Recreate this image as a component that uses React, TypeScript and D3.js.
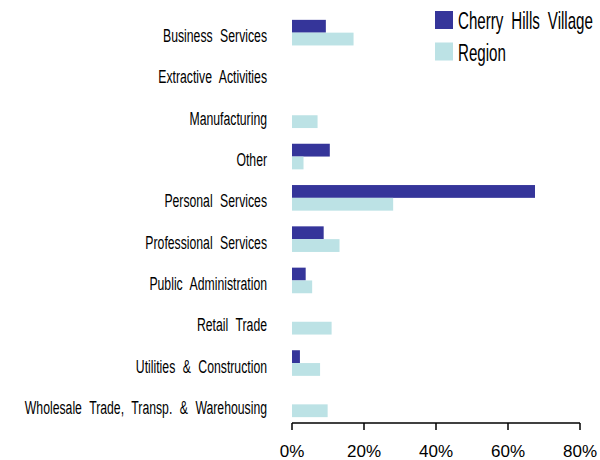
import React from 'react';
import * as d3 from 'd3';

const categories = [
  'Business Services',
  'Extractive Activities',
  'Manufacturing',
  'Other',
  'Personal Services',
  'Professional Services',
  'Public Administration',
  'Retail Trade',
  'Utilities & Construction',
  'Wholesale Trade, Transp. & Warehousing',
];
const seriesNames = ['Cherry Hills Village', 'Region'];
const cherryHills = [9.4, 0, 0, 10.5, 67.5, 8.8, 3.8, 0, 2.2, 0];
const region = [17.1, 0, 7.1, 3.2, 28.1, 13.2, 5.6, 11.0, 7.8, 9.9];
const xTicks = [0, 20, 40, 60, 80];
const colors = ['#35359a', '#bce2e5'];

const width = 600;
const height = 460;
// no condensed font installed, so squeeze Liberation Sans horizontally
const labelFont = '"Liberation Sans", Arial, sans-serif';

export default function App() {
  const x = d3.scaleLinear().domain([0, 80]).range([292, 580]);
  const y = d3.scaleBand().domain(categories).range([12, 425]).paddingInner(0.38).paddingOuter(0.19);
  const inner = d3.scaleBand().domain(seriesNames).range([0, y.bandwidth()]);
  const series = [cherryHills, region];
  const axisY = 423;

  return (
    <svg width={width} height={height} style={{ position: 'absolute', left: 0, top: 0, background: '#fff' }}>
      {/* bars */}
      {series.map((vals, si) =>
        vals.map((v, i) =>
          v > 0 ? (
            <rect
              key={`${si}-${i}`}
              x={x(0)}
              y={(y(categories[i]) as number) + (inner(seriesNames[si]) as number)}
              width={x(v) - x(0)}
              height={inner.bandwidth()}
              fill={colors[si]}
            />
          ) : null
        )
      )}

      {/* category labels */}
      {categories.map((c) => (
        <text
          key={c}
          transform={`translate(267,${(y(c) as number) + y.bandwidth() / 2 + 9.5}) scale(0.68,1)`}
          textAnchor="end"
          fontFamily={labelFont}
          fontSize={18}
          wordSpacing={6}
          fill="#000"
        >
          {c}
        </text>
      ))}

      {/* x axis */}
      <line x1={x(0)} x2={x(80)} y1={axisY} y2={axisY} stroke="#000" strokeWidth={1.5} />
      {xTicks.map((t) => (
        <g key={t} transform={`translate(${x(t)},${axisY})`}>
          <line y1={0} y2={7} stroke="#000" strokeWidth={1.5} />
          <text y={34} textAnchor="middle" fontFamily={labelFont} fontSize={17} fill="#000">
            {t}%
          </text>
        </g>
      ))}

      {/* legend */}
      {seriesNames.map((s, i) => (
        <g key={s} transform={`translate(435,${11 + i * 31.5})`}>
          <rect width={18} height={18} fill={colors[i]} />
          <text transform="translate(23,18) scale(0.63,1)" fontFamily={labelFont} fontSize={24} wordSpacing={6} fill="#000">
            {s}
          </text>
        </g>
      ))}
    </svg>
  );
}
